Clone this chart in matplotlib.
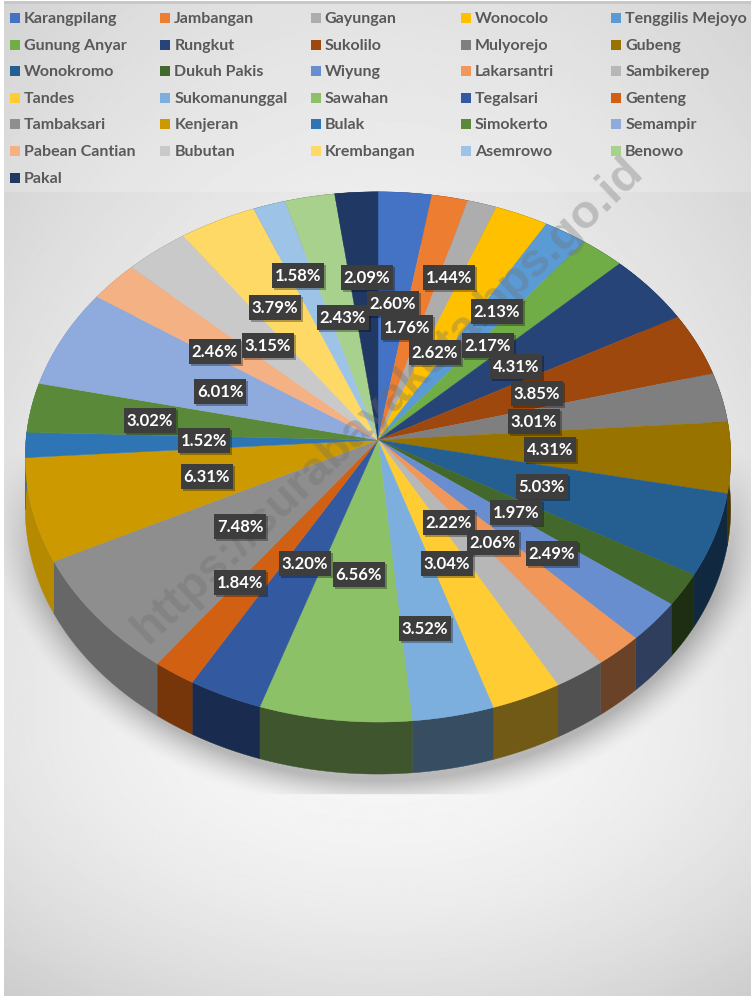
import numpy as np
from matplotlib import pyplot as plt
from matplotlib.patches import Rectangle

kecamatan = ['Karangpilang', 'Jambangan', 'Gayungan', 'Wonocolo', 'Tenggilis Mejoyo',
             'Gunung Anyar', 'Rungkut', 'Sukolilo', 'Mulyorejo', 'Gubeng',
             'Wonokromo', 'Dukuh Pakis', 'Wiyung', 'Lakarsantri', 'Sambikerep',
             'Tandes', 'Sukomanunggal', 'Sawahan', 'Tegalsari', 'Genteng',
             'Tambaksari', 'Kenjeran', 'Bulak', 'Simokerto', 'Semampir',
             'Pabean Cantian', 'Bubutan', 'Krembangan', 'Asemrowo', 'Benowo',
             'Pakal']
persen = [2.60, 1.76, 1.44, 2.62, 2.13,
          2.17, 4.31, 3.85, 3.01, 4.31,
          5.03, 1.97, 2.49, 2.06, 2.22,
          3.04, 3.52, 6.56, 3.20, 1.84,
          7.48, 6.31, 1.52, 3.02, 6.01,
          2.46, 3.15, 3.79, 1.58, 2.43,
          2.09]
warna = ['#4472C4', '#ED7D31', '#ADADAD', '#FFC000', '#5B9BD5',
         '#70AD47', '#264478', '#9E480E', '#7F7F7F', '#997300',
         '#255E91', '#43682B', '#698ED0', '#F1975A', '#B7B7B7',
         '#FFCD33', '#7CAFDD', '#8CC168', '#335AA1', '#D26012',
         '#8E8E8E', '#CC9A00', '#2E75B6', '#5A8A39', '#8FAADC',
         '#F4B183', '#C9C9C9', '#FFD966', '#9DC3E6', '#A9D18E',
         '#203864']
# label centres in pixels
label_x = [393, 407, 449, 435, 497, 488, 516, 537, 534, 550,
           542, 516, 552, 493, 449, 447, 425, 359, 305, 240,
           240, 207, 204, 150, 220, 215, 268, 275, 298, 343, 367]
label_y = [303, 327, 277, 352, 311, 345, 366, 393, 421, 449,
           486, 512, 553, 542, 522, 563, 628, 574, 563, 582,
           526, 476, 440, 420, 391, 351, 345, 307, 275, 317, 277]

W, H = 751, 996
CX, CY = 378, 440
RX, RY, K = 352, 264, 0.064
DEPTH = 52


# unit circle on the pie top to image pixels, with a little perspective
def project(theta):
    u, v = np.sin(theta), -np.cos(theta)
    return CX + RX * u / (1 - K * v), CY + RY * v / (1 - K * v)


def darker(color, f):
    r, g, b = plt.matplotlib.colors.to_rgb(color)
    return (r * f, g * f, b * f)


fig = plt.figure(figsize=(W / 100, H / 100), dpi=100)
ax = fig.add_axes([0, 0, 1, 1])
ax.set_xlim(0, W)
ax.set_ylim(H, 0)
ax.axis('off')

# background gradient and pie shadow
yy, xx = np.mgrid[0:H, 0:W]
b = np.where(yy > 720, 400, 1000)
r = np.sqrt(((xx - 378) / 650) ** 2 + ((yy - 720) / b) ** 2)
bg = 0.97 - 0.21 * r ** 2
d = np.sqrt(((xx - 378) / 358) ** 2 + ((yy - 495) / 285) ** 2)
shadow = 0.24 * np.clip((1.11 - d) / 0.11, 0, 1) ** 1.5 * np.clip((yy - 450) / 150, 0, 1)
shadow[yy > 793] = 0
bg = np.clip(bg - shadow, 0, 1)
ax.imshow(bg, cmap='gray', vmin=0, vmax=1, extent=(4, W, H, 1), aspect='auto',
          interpolation='bilinear', zorder=0)
ax.set_xlim(0, W)
ax.set_ylim(H, 0)
ax.add_patch(Rectangle((4, 1), W, 3, fc='#c8c8c8', ec='none', zorder=1))
ax.add_patch(Rectangle((4, 4), W, 188, fc='white', ec='none', alpha=0.2, zorder=1))

# pie wedges
edges = np.cumsum([0] + persen) / sum(persen) * 2 * np.pi
for i in range(len(persen)):
    t = np.linspace(edges[i], edges[i + 1], 40)
    x, y = project(t)
    u = np.sin(t.mean())
    shade = 0.44 + 0.48 * np.clip((-u - 0.3) / 0.7, 0, 1) ** 1.3
    ax.fill(np.r_[x, x[::-1]], np.r_[y, y[::-1] + DEPTH], color=darker(warna[i], shade),
            lw=0.3, zorder=2)
for i in range(len(persen)):
    t = np.linspace(edges[i], edges[i + 1], 40)
    x, y = project(t)
    ax.fill(np.r_[CX, x], np.r_[CY, y], color=warna[i], lw=0.3, zorder=3)

# watermark
ax.text(388, 400, 'https://surabayakota.bps.go.id', family='Liberation Sans', weight='bold',
        fontsize=34, color='#6e6e6e', alpha=0.33, rotation=43.5, rotation_mode='anchor',
        ha='center', va='center', zorder=4)

# data labels
for i in range(len(persen)):
    lx, ly = label_x[i], label_y[i]
    ax.add_patch(Rectangle((lx - 24, ly - 10), 52, 25, fc='black', ec='none', alpha=0.3, zorder=5))
    ax.add_patch(Rectangle((lx - 26, ly - 12.5), 52, 25, fc='#3d3d3d', ec='none', zorder=6))
    ax.text(lx, ly + 1, '%.2f%%' % persen[i], family='Lato', weight='bold', fontsize=12,
            color='white', ha='center', va='center', zorder=7)

# legend, filled row by row
for i, nama in enumerate(kecamatan):
    row, col = divmod(i, 5)
    lx = 10 + col * 150.3
    ly = 18 + row * 26.6
    ax.add_patch(Rectangle((lx, ly - 5), 10, 10, fc=warna[i], ec='none', zorder=8))
    ax.text(lx + 14, ly + 1, nama, family='Lato', weight='bold', fontsize=11.5,
            color='#595959', ha='left', va='center', zorder=8)

plt.savefig('out.png', dpi=100)
